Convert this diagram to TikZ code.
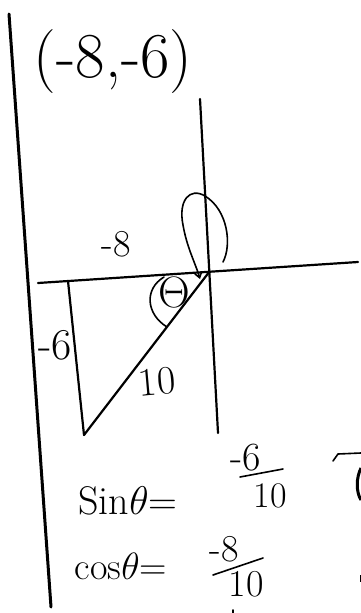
\RequirePackage{fix-cm}
\documentclass[tikz,border=0pt]{standalone}
\usetikzlibrary{arrows.meta}
\begin{document}
\begin{tikzpicture}[x=1pt,y=-1pt,
  pen/.style={line width=2.2pt,line cap=round,line join=round,black},
  thinpen/.style={line width=1.6pt,line cap=round,line join=round,black},
  hand/.style={inner sep=0pt,anchor=center,black},
  ]
\useasboundingbox (0,0) rectangle (361,613);
% margin line
\coordinate (mt) at (9,14);
\coordinate (mb) at (51,607);
\draw[line width=3pt,line cap=round] (mt) -- (mb);
% point label
\node[hand,font=\fontsize{64}{64}\selectfont] (pt) at (113,62) {(-8,-6)};
% axes
\coordinate (xl) at (38,283);
\coordinate (xr) at (358,262);
\coordinate (yt) at (200,99);
\coordinate (yb) at (218,433);
\draw[pen] (xl) -- (xr);
\draw[pen] (yt) -- (yb);
\coordinate (O) at (intersection of xl--xr and yt--yb);
% triangle
\coordinate (lt) at (68,281);
\coordinate (lb) at (84,435);
\draw[pen] (lt) -- (lb);
\draw[pen] (lb) -- (O);
% labels
\node[hand,font=\fontsize{38}{38}\selectfont] (l8) at (116,244) {-8};
\node[hand,font=\fontsize{44}{44}\selectfont] (l6) at (55,345) {-6};
\node[hand,font=\fontsize{40}{40}\selectfont,rotate=5] (l10) at (157,382) {10};
\node[hand,font=\fontsize{44}{44}\selectfont] (th) at (174,292) {$\Theta$};
% angle arc
\coordinate (a1) at (164,277);
\coordinate (a2) at (167,327);
\draw[thinpen] (a1) .. controls (144,289) and (146,314) .. (a2);
% rotation loop
\coordinate (ls) at (223,262);
\coordinate (le) at (200,279);
\draw[thinpen,-{Straight Barb[length=5pt,width=7pt]}] (ls) .. controls (232,245) and (228,210) .. (205,196)
  .. controls (190,187) and (178,200) .. (183,225)
  .. controls (187,248) and (195,262) .. (le);
% trig values
\node[hand,font=\fontsize{40}{40}\selectfont] (sn) at (128,501) {Sin$\theta$=};
\node[hand,font=\fontsize{40}{40}\selectfont] (sn6) at (246,458) {-6};
\coordinate (sb1) at (240,477);
\coordinate (sb2) at (283,469);
\draw[thinpen] (sb1) -- (sb2);
\node[hand,font=\fontsize{36}{36}\selectfont] (sd) at (270,496) {10};
\node[hand,font=\fontsize{38}{38}\selectfont] (cs) at (121,566) {cos$\theta$=};
\node[hand,font=\fontsize{38}{38}\selectfont] (cn8) at (224,549) {-8};
\coordinate (cb1) at (213,575);
\coordinate (cb2) at (263,558);
\draw[thinpen] (cb1) -- (cb2);
\node[hand,font=\fontsize{38}{38}\selectfont] (cd) at (246,584) {10};
% cut-off marks at right edge
\coordinate (r1) at (333,461);
\coordinate (r2) at (338,454);
\coordinate (r3) at (361,453);
\draw[thinpen] (r1) -- (r2) -- (r3);
\coordinate (c1) at (361,468);
\coordinate (c2) at (361,500);
\draw[line width=3pt] (c1) .. controls (356,478) and (356,492) .. (c2);
\coordinate (t1) at (360,575);
\coordinate (t2) at (360,582);
\draw[line width=1pt] (t1) -- (t2);
\coordinate (b3) at (233,610);
\coordinate (b4) at (233,613);
\draw[thinpen] (b3) -- (b4);
\end{tikzpicture}
\end{document}
